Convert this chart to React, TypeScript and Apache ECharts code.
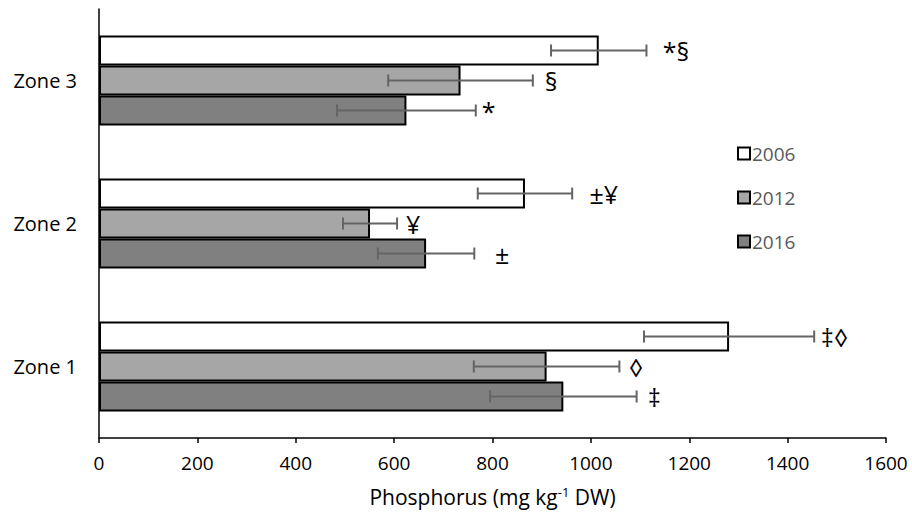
import React, { useEffect, useRef } from "react";
import * as echarts from "echarts";

const categories = ["Zone 1", "Zone 2", "Zone 3"];
const years = ["2006", "2012", "2016"];
const means2006 = [1281, 866, 1016];
const means2012 = [910, 551, 735];
const means2016 = [944, 665, 625];
const err2006 = [173, 96, 97];
const err2012 = [148, 55, 147];
const err2016 = [149, 98, 141];
const marks2006 = ["‡◊", "±¥", "*§"];
const marks2012 = ["◊", "¥", "§"];
const marks2016 = ["‡", "±", "*"];
const markX2006 = [1468, 997, 1146];
const markX2012 = [1077, 624, 906];
const markX2016 = [1116, 805, 778];
const xTicks = { min: 0, max: 1600, interval: 200 };

const FONT = "'Open Sans', 'Liberation Sans', sans-serif";
const BAR_W = 30;
const colors = ["#ffffff", "#a6a6a6", "#808080"];

export default function App() {
  const ref = useRef<HTMLDivElement>(null);
  useEffect(() => {
    document.body.style.margin = "0";
    if (!ref.current) return;
    const chart = echarts.init(ref.current, undefined, { renderer: "svg" });
    const means = [means2006, means2012, means2016];
    const errs = [err2006, err2012, err2016];
    const marks = [marks2006, marks2012, marks2016];
    const markX = [markX2006, markX2012, markX2016];

    const errData: any[] = [];
    const markData: any[] = [];
    for (let s = 0; s < 3; s++) {
      for (let c = 0; c < categories.length; c++) {
        errData.push([c, means[s][c] - errs[s][c], means[s][c] + errs[s][c], s - 1]);
        markData.push([c, markX[s][c], s - 1, marks[s][c]]);
      }
    }

    const barSeries = years.map((y, i) => ({
      name: y,
      type: "bar",
      data: means[i],
      barWidth: BAR_W,
      barGap: "0%",
      itemStyle: { color: colors[i], borderColor: "#000", borderWidth: 2 },
      z: 2,
    }));

    chart.setOption({
      animation: false,
      grid: { left: 99, right: 26, top: 9, bottom: 84, containLabel: false },
      legend: {
        data: years,
        orient: "vertical",
        left: 732,
        top: 139,
        itemWidth: 12,
        itemHeight: 12,
        itemGap: 25,
        icon: "rect",
        selectedMode: false,
        textStyle: { color: "#595959", fontSize: 19, fontFamily: FONT, padding: [0, 0, 0, -3] },
      },
      xAxis: {
        type: "value",
        min: xTicks.min,
        max: xTicks.max,
        interval: xTicks.interval,
        splitLine: { show: false },
        axisLine: { show: true, lineStyle: { color: "#000", width: 1.5 } },
        axisTick: { show: true, length: 5, lineStyle: { color: "#000", width: 1.5 } },
        axisLabel: {
          color: "#000",
          fontSize: 19,
          fontFamily: FONT,
          margin: 15,
          formatter: (v: number) => String(v),
        },
        name: "Phosphorus (mg kg{sup|-1} DW)",
        nameLocation: "middle",
        nameGap: 47,
        nameTextStyle: {
          color: "#000",
          fontSize: 21,
          fontFamily: FONT,
          rich: {
            sup: { fontSize: 13, fontFamily: FONT, color: "#000", verticalAlign: "top", padding: [0, 0, 11, 0] },
          },
        },
      },
      yAxis: {
        type: "category",
        data: categories,
        axisLine: { show: true, lineStyle: { color: "#000", width: 1.5 } },
        axisTick: { show: false },
        axisLabel: { color: "#000", fontSize: 20, fontFamily: FONT, margin: 22 },
      },
      series: [
        ...barSeries,
        {
          type: "custom",
          name: "err",
          z: 5,
          data: errData,
          encode: { x: [1, 2], y: 0 },
          renderItem: (params: any, api: any) => {
            const cat = api.value(0);
            const lo = api.coord([api.value(1), cat]);
            const hi = api.coord([api.value(2), cat]);
            const y = lo[1] + api.value(3) * BAR_W;
            const st = { stroke: "#646464", lineWidth: 2 };
            const cap = 6;
            return {
              type: "group",
              children: [
                { type: "line", shape: { x1: lo[0], y1: y, x2: hi[0], y2: y }, style: st },
                { type: "line", shape: { x1: lo[0], y1: y - cap, x2: lo[0], y2: y + cap }, style: st },
                { type: "line", shape: { x1: hi[0], y1: y - cap, x2: hi[0], y2: y + cap }, style: st },
              ],
            };
          },
        },
        {
          type: "custom",
          name: "marks",
          z: 6,
          data: markData,
          encode: { x: 1, y: 0 },
          renderItem: (params: any, api: any) => {
            const cat = api.value(0);
            const p = api.coord([api.value(1), cat]);
            const y = p[1] + api.value(2) * BAR_W;
            const item = markData[params.dataIndex];
            return {
              type: "text",
              x: p[0],
              y: y,
              style: {
                text: item[3],
                fill: "#000",
                fontSize: 25,
                fontFamily: FONT,
                align: "left",
                verticalAlign: "middle",
              },
            };
          },
        },
      ],
    });
    return () => chart.dispose();
  }, []);
  return <div ref={ref} style={{ width: 912, height: 522, position: "absolute", left: 0, top: 0 }} />;
}
